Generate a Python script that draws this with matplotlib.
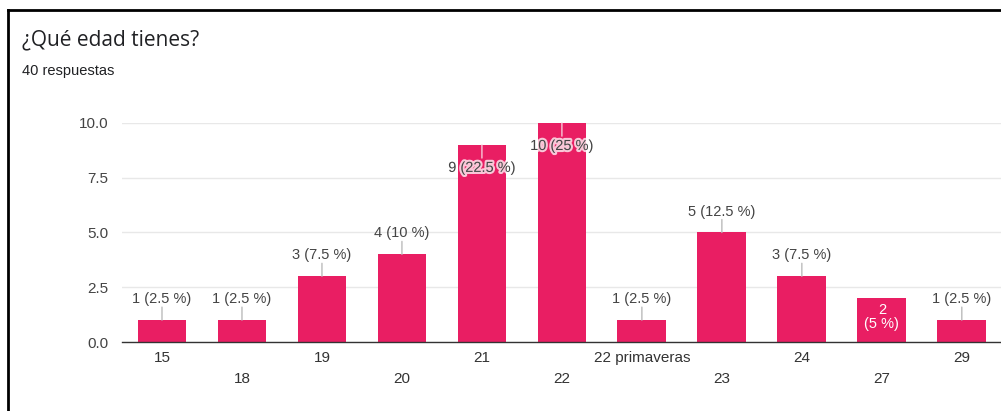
import matplotlib
matplotlib.use("Agg")
import matplotlib.pyplot as plt
import matplotlib.patheffects as pe
from matplotlib.lines import Line2D

plt.rcParams['font.family'] = ['Liberation Sans', 'DejaVu Sans']

title = "¿Qué edad tienes?"
subtitle = "40 respuestas"
categories = ["15", "18", "19", "20", "21", "22", "22 primaveras", "23", "24", "27", "29"]
counts = [1, 1, 3, 4, 9, 10, 1, 5, 3, 2, 1]
percents = ["2.5", "2.5", "7.5", "10", "22.5", "25", "2.5", "12.5", "7.5", "5", "2.5"]
yticks = [0.0, 2.5, 5.0, 7.5, 10.0]

W, H = 1001, 411
fig = plt.figure(figsize=(W / 100, H / 100), dpi=100)
fig.patch.set_facecolor("white")

# border lines (top and left)
fig.add_artist(Line2D([8 / W, 8 / W], [0, 1 - 10.5 / H], transform=fig.transFigure,
                      color="black", lw=2))
fig.add_artist(Line2D([8 / W, 1], [1 - 10.5 / H, 1 - 10.5 / H], transform=fig.transFigure,
                      color="black", lw=2))

fig.text(22 / W, 1 - 40 / H, title, fontsize=15, color="#202124", va="center", ha="left",
         family=["Open Sans", "DejaVu Sans"])
fig.text(22 / W, 1 - 71 / H, subtitle, fontsize=10.5, color="#202124", va="center", ha="left")

left, right = 122, 1001
bottom, top = 342, 123
ax = fig.add_axes([left / W, (H - bottom) / H, (right - left) / W, (bottom - top) / H])
x = list(range(len(categories)))
bar_color = "#E91E63"
ax.bar(x, counts, width=0.61, color=bar_color, zorder=2)
ax.set_xlim(-0.5, 10.49)
ax.set_ylim(0, 10)
ax.set_yticks(yticks)
ax.set_yticklabels([f"{v:.1f}" for v in yticks], fontsize=11, color="#444444")
ax.yaxis.grid(True, color="#e8e8e8", lw=1, zorder=0)
ax.set_axisbelow(True)
for s in ["top", "right", "left"]:
    ax.spines[s].set_visible(False)
ax.spines["bottom"].set_color("#333333")
ax.spines["bottom"].set_linewidth(1)
ax.tick_params(axis="y", length=0, pad=10)
ax.tick_params(axis="x", length=0)
ax.set_xticks(x)
ax.set_xticklabels([])
for i, c in enumerate(categories):
    dy = 16 if i % 2 == 0 else 37
    ax.annotate(c, xy=(i, 0), xytext=(0, -dy / 1.389), textcoords="offset points",
                ha="center", va="center", fontsize=11, color="#333333")

halo = [pe.withStroke(linewidth=3, foreground="white", alpha=0.75)]
for i, (v, p) in enumerate(zip(counts, percents)):
    label = f"{v} ({p} %)"
    if v >= 9:
        # label inside the bar, below its top
        ax.annotate("", xy=(i, v), xytext=(i, v - 0.6),
                    arrowprops=dict(arrowstyle="-", color="#f8c8d8", lw=1,
                                    shrinkA=0, shrinkB=0))
        ax.annotate(label, xy=(i, v), xytext=(0, -23 / 1.389), textcoords="offset points",
                    ha="center", va="center", fontsize=10.5, color="#444444",
                    path_effects=halo, zorder=5)
    elif v == 2:
        ax.annotate(f"{v}\n({p} %)", xy=(i, v), xytext=(0, -19 / 1.389),
                    textcoords="offset points", ha="center", va="center",
                    fontsize=10.5, color="white", linespacing=1.0, zorder=5)
    else:
        ax.annotate("", xy=(i, v), xytext=(0, 13 / 1.389), textcoords="offset points",
                    arrowprops=dict(arrowstyle="-", color="#bbbbbb", lw=1,
                                    shrinkA=0, shrinkB=0))
        ax.annotate(label, xy=(i, v), xytext=(0, 21 / 1.389), textcoords="offset points",
                    ha="center", va="center", fontsize=10.5, color="#444444", zorder=5)

fig.savefig("out.png", dpi=100)
